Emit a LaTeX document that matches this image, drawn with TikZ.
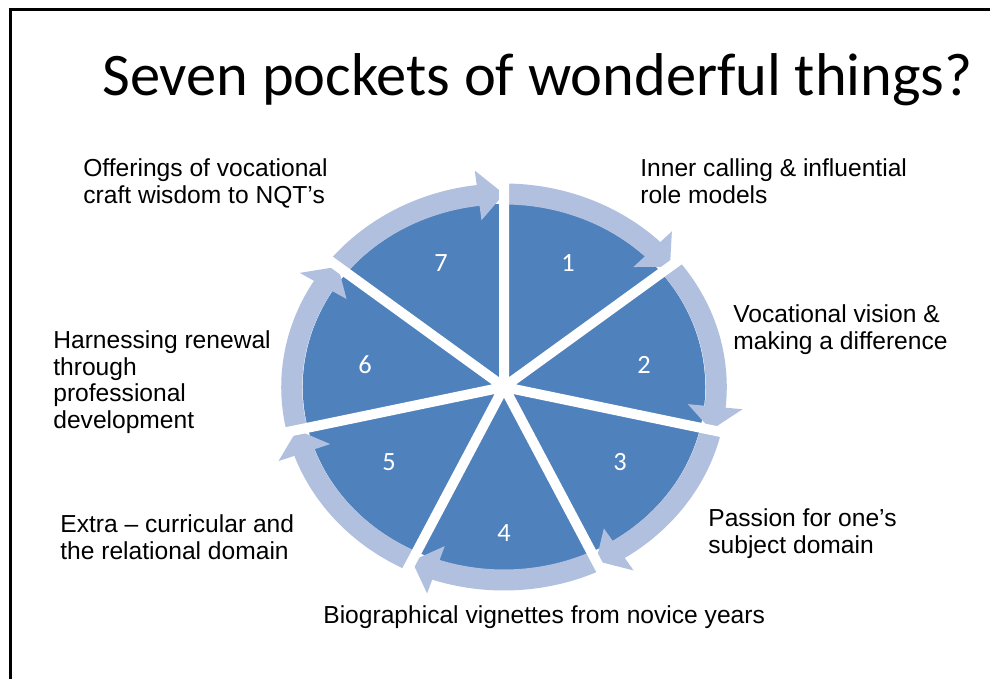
\documentclass[tikz,border=0pt]{standalone}
\usepackage{xcolor}
\usepackage{fontspec}
\setmainfont{Liberation Sans}
\newfontfamily\titlefont{Carlito}
\usepackage{tikz}
\usetikzlibrary{positioning}
\definecolor{pieblue}{RGB}{79,129,189}
\definecolor{ringblue}{RGB}{176,192,222}

\begin{document}
\begin{tikzpicture} [
        x = 0.02cm, y = -0.02cm,
        frame/.style = {draw, line width=0.06cm},
        wedge/.style = {fill=pieblue},
        ring/.style = {draw=ringblue, line width=0.42cm},
        head/.style = {fill=ringblue},
        gap/.style = {draw=white, line width=0.2cm},
        num/.style = {text=white, inner sep=0pt, font=\titlefont\fontsize{15}{17}\selectfont},
        txt/.style = {align=left, anchor=base west, inner sep=0pt, font=\fontsize{14}{15}\selectfont},
        title/.style = {anchor=base west, inner sep=0pt, font=\titlefont\fontsize{34.4}{40}\selectfont}
    ]

    \useasboundingbox (0,0) rectangle (990,679);
    \draw[frame] (10.5,700) -- (10.5,9.5) -- (1010,9.5);

    \node[title] (title) at (102,95) {Seven pockets of wonderful things?};

    \coordinate (c) at (504,387);
    \begin{scope}[shift={(c)}, x=0.022cm, y=0.02cm]
    % the seven pockets
    \fill[wedge] (c) -- (90:183) arc[start angle=90, end angle=38.57, radius=183] -- cycle;
    \fill[wedge] (c) -- (38.57:183) arc[start angle=38.57, end angle=-12.86, radius=183] -- cycle;
    \fill[wedge] (c) -- (-12.86:183) arc[start angle=-12.86, end angle=-64.29, radius=183] -- cycle;
    \fill[wedge] (c) -- (-64.29:183) arc[start angle=-64.29, end angle=-115.71, radius=183] -- cycle;
    \fill[wedge] (c) -- (-115.71:183) arc[start angle=-115.71, end angle=-167.14, radius=183] -- cycle;
    \fill[wedge] (c) -- (-167.14:183) arc[start angle=-167.14, end angle=-218.57, radius=183] -- cycle;
    \fill[wedge] (c) -- (141.43:183) arc[start angle=141.43, end angle=90, radius=183] -- cycle;

    % arrows round the rim
    \draw[ring] (90:193) arc[start angle=90, end angle=45.07, radius=193];
    \fill[head] (45.57:168) -- (38.57:193) -- (45.57:218) -- cycle;
    \draw[ring] (38.57:193) arc[start angle=38.57, end angle=-6.36, radius=193];
    \fill[head] (-5.86:168) -- (-12.86:193) -- (-5.86:218) -- cycle;
    \draw[ring] (-12.86:193) arc[start angle=-12.86, end angle=-57.79, radius=193];
    \fill[head] (-57.29:168) -- (-64.29:193) -- (-57.29:218) -- cycle;
    \draw[ring] (-64.29:193) arc[start angle=-64.29, end angle=-109.21, radius=193];
    \fill[head] (-108.71:168) -- (-115.71:193) -- (-108.71:218) -- cycle;
    \draw[ring] (-115.71:193) arc[start angle=-115.71, end angle=-160.64, radius=193];
    \fill[head] (-160.14:168) -- (-167.14:193) -- (-160.14:218) -- cycle;
    \draw[ring] (-167.14:193) arc[start angle=-167.14, end angle=-212.07, radius=193];
    \fill[head] (148.43:168) -- (141.43:193) -- (148.43:218) -- cycle;
    \draw[ring] (141.43:193) arc[start angle=141.43, end angle=96.5, radius=193];
    \fill[head] (97:168) -- (90:193) -- (97:218) -- cycle;

    % white cuts between pockets
    \draw[gap] (c) -- (90:222) (c) -- (38.57:222) (c) -- (-12.86:222) (c) -- (-64.29:222)
               (c) -- (-115.71:222) (c) -- (-167.14:222) (c) -- (141.43:222);
    \end{scope}

    \node[num] (n1) at (568,263) {1};
    \node[num] (n2) at (644,365) {2};
    \node[num] (n3) at (620,462) {3};
    \node[num] (n4) at (504,533) {4};
    \node[num] (n5) at (389,462) {5};
    \node[num] (n6) at (365,365) {6};
    \node[num] (n7) at (441,263) {7};

    % base of each text is the baseline of its last line
    \node[txt] (l1) at (640,203) {Inner calling \& influential\\role models};
    \node[txt] (l2) at (733,349) {Vocational vision \&\\making a difference};
    \node[txt] (l3) at (708,553) {Passion for one’s\\subject domain};
    \node[txt] (l4) at (323,623) {Biographical vignettes from novice years};
    \node[txt] (l5) at (60,559) {Extra -- curricular and\\the relational domain};
    \node[txt] (l6) at (53,428) {Harnessing renewal\\through\\professional\\development};
    \node[txt] (l7) at (83,203) {Offerings of vocational\\craft wisdom to NQT’s};

\end{tikzpicture}
\end{document}
